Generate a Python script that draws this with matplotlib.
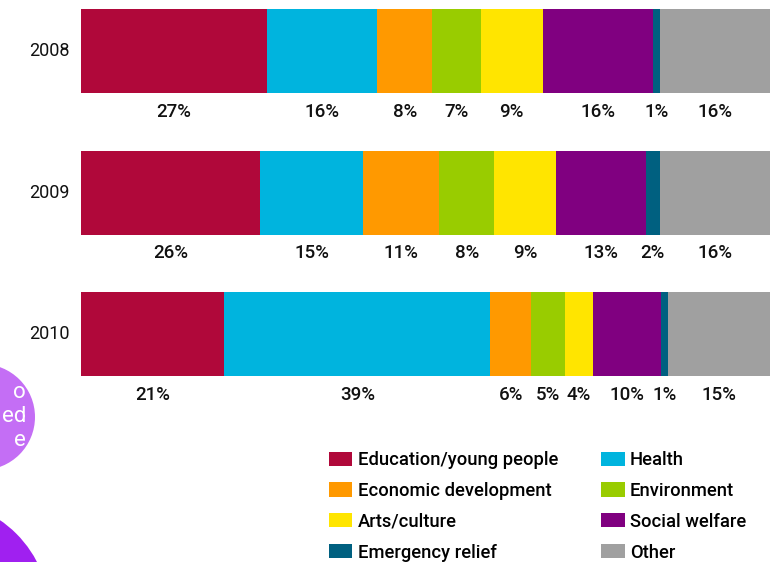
import numpy as np
import matplotlib.pyplot as plt
from matplotlib.patches import Patch, Circle

plt.rcParams['font.family'] = ['Roboto', 'DejaVu Sans']

years = ['2008', '2009', '2010']
categories = ['Education/young people', 'Health', 'Economic development',
              'Environment', 'Arts/culture', 'Social welfare',
              'Emergency relief', 'Other']
shares = {
    '2008': [27, 16, 8, 7, 9, 16, 1, 16],
    '2009': [26, 15, 11, 8, 9, 13, 2, 16],
    '2010': [21, 39, 6, 5, 4, 10, 1, 15],
}
colors = ['#b0083a', '#00b4de', '#ff9900', '#99cc00',
          '#ffe500', '#800080', '#006080', '#a0a0a0']

W, H = 779, 562
fig = plt.figure(figsize=(W / 100, H / 100), dpi=100)

# decorative bubbles on the left edge
bg = fig.add_axes([0, 0, 1, 1])
bg.set_xlim(0, W)
bg.set_ylim(H, 0)
bg.axis('off')
bg.add_patch(Circle((-18, 417), 53, color='#c46ef5', lw=0))
bg.add_patch(Circle((-65, 615), 115, color='#a020f0', lw=0))
for txt, yy in [('o', 393), ('ed', 417), ('e', 441)]:
    bg.text(26, yy, txt, color='white', fontsize=16, ha='right', va='center')

# stacked bars
ax = fig.add_axes([81 / W, 0, 689 / W, 1])
row_px = 141.5
bar_h = 84 / row_px
ax.set_ylim(-51 / row_px + H / row_px, -51 / row_px)
ax.set_xlim(0, 100)
ax.axis('off')

for i, yr in enumerate(years):
    vals = np.array(shares[yr], dtype=float)
    widths = vals / vals.sum() * 100
    left = 0
    for v, w, c in zip(vals, widths, colors):
        ax.barh(i, w, left=left, height=bar_h, color=c, lw=0)
        ax.text(left + w / 2, i + 0.43, f'{int(v)}%', ha='center', va='center',
                fontsize=13.5, fontweight='medium', color='#111111')
        left += w
    ax.text(-1.6, i, yr, ha='right', va='center', fontsize=13, color='#111111')

# legend, filled row by row
order = [0, 2, 4, 6, 1, 3, 5, 7]
handles = [Patch(color=colors[k], lw=0) for k in order]
labels = [categories[k] for k in order]
fig.legend(handles, labels, ncol=2, loc='upper left',
           bbox_to_anchor=(329 / W, 1 - 451 / H), frameon=False,
           prop={'size': 13.2, 'weight': 'medium'},
           handlelength=1.28, handleheight=0.82,
           handletextpad=0.28, columnspacing=2.35, labelspacing=0.7,
           borderpad=0, borderaxespad=0)

fig.savefig('out.png', dpi=100)
